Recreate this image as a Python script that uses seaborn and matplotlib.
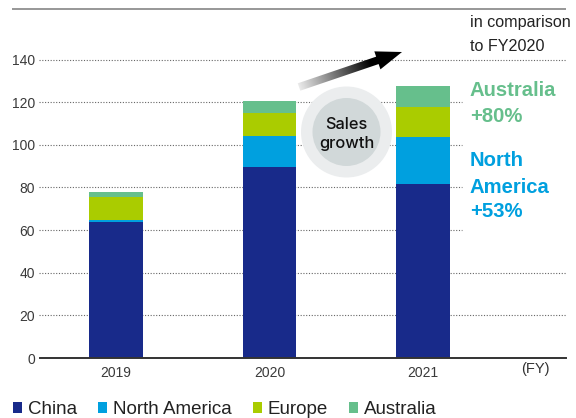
import numpy as np
import pandas as pd
import matplotlib
matplotlib.use("Agg")
import matplotlib.pyplot as plt
from matplotlib.patches import Circle, Polygon, Patch
import seaborn as sns

# Sales by region (FY), stacked from the bottom up
years = ["2019", "2020", "2021"]
china = [63.9, 89.6, 81.8]
north_america = [0.9, 14.3, 21.9]
europe = [10.7, 10.8, 13.8]
australia = [2.3, 5.7, 10.25]

regions = ["China", "North America", "Europe", "Australia"]
colors = ["#182a8a", "#00a0df", "#aacc00", "#66bf8c"]
y_ticks = [0, 20, 40, 60, 80, 100, 120, 140]

sns.set_style("white")
plt.rcParams["font.family"] = ["Liberation Sans", "DejaVu Sans"]

df = pd.DataFrame({"year": years, "China": china, "North America": north_america,
                   "Europe": europe, "Australia": australia})

W, H = 576, 418
fig = plt.figure(figsize=(W / 100, H / 100), dpi=100)
ax = fig.add_axes([40 / W, 1 - 358 / H, 526 / W, (358 - 59.5) / H])

# Paint cumulative totals from the top layer down so each segment shows as a stack
for i in reversed(range(len(regions))):
    cum = df[regions[: i + 1]].sum(axis=1)
    sns.barplot(x=df["year"], y=cum, color=colors[i], width=0.35, saturation=1,
                linewidth=0, ax=ax, zorder=3)

ax.set_xlim(-0.495, 2.93)
ax.set_ylim(0, 140)
ax.set_yticks(y_ticks)
ax.set_xlabel("")
ax.set_ylabel("")
ax.tick_params(axis="y", length=0, pad=3.6, labelsize=10, labelcolor="#3a3a3a")
ax.tick_params(axis="x", length=0, pad=5.5, labelsize=10, labelcolor="#3a3a3a")
for s in ("left", "top", "right"):
    ax.spines[s].set_visible(False)
ax.spines["bottom"].set_color("#333333")
ax.spines["bottom"].set_linewidth(1.4)
ax.spines["bottom"].set_zorder(4)

# Dotted gridlines; the middle ones stop short of the annotation text
short = (462 - 40) / 526
for v in y_ticks[1:]:
    xmax = 1.0 if v in (20, 40, 140) else short
    ax.axhline(v, xmin=-0.002, xmax=xmax, color="#666666", lw=0.8,
               ls=(0, (1, 1.5)), zorder=1, clip_on=False)

# Overlay in pixel units for the annotations
ov = fig.add_axes([0, 0, 1, 1], zorder=5)
ov.patch.set_alpha(0)
ov.axis("off")

# Header rule
ov.plot([12, 566], [9, 9], color="#7a7a7a", lw=1.1, solid_capstyle="butt")

# Growth arrow with a light-to-dark gradient
tip = np.array([402.0, 52.0])
tail = np.array([299.0, 87.0])
d = tip - tail
L = np.hypot(*d)
u = d / L
n = np.array([-u[1], u[0]])
hl, hw, sw = 26.0, 9.5, 3.9
base = tip - hl * u
pts = [tail + sw * n, base + sw * n, base + hw * n, tip,
       base - hw * n, base - sw * n, tail - sw * n]
poly = Polygon(pts, closed=True, facecolor="none", edgecolor="none")
ov.add_patch(poly)
x0, x1, y0, y1 = 290, 410, 40, 100
gx, gy = np.meshgrid(np.linspace(x0, x1, 240), np.linspace(y0, y1, 120))
t = ((gx - tail[0]) * u[0] + (gy - tail[1]) * u[1]) / L
shade = np.clip(0.92 * (1 - t / 0.7), 0, 1)
im = ov.imshow(shade, cmap="gray", vmin=0, vmax=1, extent=(x0, x1, y1, y0),
               origin="upper", aspect="auto", interpolation="bilinear")
im.set_clip_path(poly)

# "Sales growth" badge
cx, cy = 346.5, 132.0
ov.add_patch(Circle((cx, cy), 45.5, facecolor="#ebedee", edgecolor="none"))
ov.add_patch(Circle((cx, cy), 34, facecolor="#d1d8d9", edgecolor="none"))
ov.text(cx, 129.3, "Sales", ha="center", va="baseline", fontsize=11.8,
        family=["Inter", "DejaVu Sans"], fontweight="medium", color="#111111")
ov.text(cx, 148.3, "growth", ha="center", va="baseline", fontsize=11.8,
        family=["Inter", "DejaVu Sans"], fontweight="medium", color="#111111")

# Growth notes
aus_growth = (australia[2] / australia[1] - 1) * 100
na_growth = (north_america[2] / north_america[1] - 1) * 100
tx = 470
ov.text(tx, 27.3, "in comparison", va="baseline", fontsize=11.6, color="#222222")
ov.text(tx, 50.7, "to FY2020", va="baseline", fontsize=11.6, color="#222222")
big = 14.6
ov.text(tx, 95.7, "Australia", va="baseline", fontsize=big, fontweight="bold", color=colors[3])
ov.text(tx, 121.7, f"+{aus_growth:.0f}%", va="baseline", fontsize=big, fontweight="bold", color=colors[3])
ov.text(tx, 165.7, "North", va="baseline", fontsize=big, fontweight="bold", color=colors[1])
ov.text(tx, 192.7, "America", va="baseline", fontsize=big, fontweight="bold", color=colors[1])
ov.text(tx, 216.7, f"+{na_growth:.0f}%", va="baseline", fontsize=big, fontweight="bold", color=colors[1])

ov.text(535, 369, "(FY)", ha="center", va="center", fontsize=10.5, color="#333333")

ov.set_xlim(0, W)
ov.set_ylim(H, 0)

handles = [Patch(facecolor=c, edgecolor="none") for c in colors]
fig.legend(handles, regions, loc="lower left", bbox_to_anchor=(13 / W, 0.0),
           ncol=4, frameon=False, fontsize=13.5, handlelength=0.48, handleheight=0.48,
           handletextpad=0.32, columnspacing=1.12, borderpad=0, borderaxespad=0,
           labelcolor="#222222")

fig.savefig("out.png", dpi=100)
